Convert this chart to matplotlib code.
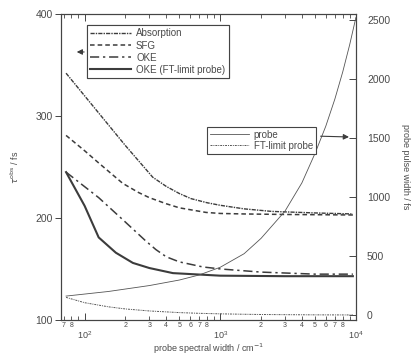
import math
import matplotlib
matplotlib.use("Agg")
import matplotlib.pyplot as plt
from matplotlib.ticker import LogLocator, FuncFormatter, FixedLocator

plt.rcParams['font.family'] = ['Liberation Sans', 'DejaVu Sans']

# ---- data ----
x_abs = [73, 127, 200, 318, 400, 500, 610, 800, 1000, 1500, 2400, 5000, 9500]
y_abs = [342, 303, 271, 240, 231, 224, 219, 215, 212.5, 209, 206.5, 205, 204]

x_sfg = [73, 100, 127, 191, 250, 300, 400, 500, 786, 1000, 1500, 3000, 9500]
y_sfg = [281, 266, 254, 234, 225, 220, 214, 210, 205.5, 204.5, 204, 203.5, 203]

x_oke = [73, 127, 200, 280, 336, 400, 500, 748, 1020, 2000, 5000, 9500]
y_oke = [245, 220, 196, 178, 169, 162, 157, 152, 150, 147, 145, 145]

x_okeft = [73, 100, 127, 170, 227, 300, 448, 1000, 3000, 9500]
y_okeft = [245, 212, 181, 166, 156, 151, 146, 143.5, 143, 143]

x_probe = [73, 150, 300, 500, 700, 1000, 1500, 2000, 3000, 4000, 5000, 6000, 7000, 8000, 9000, 10000]
y_probe = [161, 200, 250, 297, 340, 405, 520, 650, 880, 1120, 1370, 1600, 1830, 2060, 2290, 2520]

x_ftprobe = [73, 100, 150, 200, 300, 500, 700, 1000, 1500, 2000, 3000, 5000, 7000, 9500]
y_ftprobe = [150, 105, 70, 52, 35, 21, 15, 10.5, 7, 5, 3.5, 2, 1.5, 1.1]

left_ticks = [100, 200, 300, 400]
right_ticks = [0, 500, 1000, 1500, 2000, 2500]

ink = '#3c3c3c'
txt = '#4a4a4a'

fig = plt.figure(figsize=(4.13, 3.56), dpi=100)
fig.patch.set_facecolor('white')
ax = fig.add_axes([0.1477, 0.101, 0.714, 0.8596])
ax2 = ax.twinx()

l1, = ax.plot(x_abs, y_abs, color=ink, lw=1.0, ls=(0, (3, 0.8, 1, 0.8)))
l2, = ax.plot(x_sfg, y_sfg, color=ink, lw=1.1, ls=(0, (3, 2)))
l3, = ax.plot(x_oke, y_oke, color=ink, lw=1.1, ls=(0, (6, 2.5, 1.5, 2.5)))
l4, = ax.plot(x_okeft, y_okeft, color=ink, lw=1.5, ls='-')

p1, = ax2.plot(x_probe, y_probe, color='#555555', lw=0.6, ls='-')
p2, = ax2.plot(x_ftprobe, y_ftprobe, color='#555555', lw=0.7, ls=(0, (2, 1, 1, 1)))

ax.set_xscale('log')
ax.set_xlim(67, 10000)
ax.set_ylim(100, 400)
ax2.set_ylim(-42, 2550)

ax.yaxis.set_major_locator(FixedLocator(left_ticks))
ax.yaxis.set_minor_locator(FixedLocator([]))
ax2.yaxis.set_major_locator(FixedLocator(right_ticks))

ax.xaxis.set_major_locator(LogLocator(base=10, numticks=10))
ax.xaxis.set_minor_locator(LogLocator(base=10, subs=range(2, 10), numticks=30))

def minor_fmt(v, pos):
    d = v / 10 ** math.floor(math.log10(v) + 1e-9)
    d = int(round(d))
    return str(d) if 2 <= d <= 8 else ''

ax.xaxis.set_minor_formatter(FuncFormatter(minor_fmt))

for a in (ax, ax2):
    for s in a.spines.values():
        s.set_color('#444444')
        s.set_linewidth(0.8)

ax.tick_params(axis='x', which='major', direction='in', length=5, width=0.7,
               top=True, labelsize=6.5, pad=7, colors='#444444', labelcolor=txt)
ax.tick_params(axis='x', which='minor', direction='in', length=3, width=0.6,
               top=True, labelsize=5, pad=1.5, colors='#444444', labelcolor=txt)
ax.tick_params(axis='y', which='major', direction='out', length=4, width=0.7,
               labelsize=7.5, pad=2, colors='#444444', labelcolor=txt)
ax2.tick_params(axis='y', which='major', direction='in', length=5, width=0.7,
                labelsize=7.5, pad=8, colors='#444444', labelcolor=txt)

ax.set_xlabel('probe spectral width / cm$^{-1}$', fontsize=6.5, color=txt, labelpad=0)
ax.set_ylabel(r'$\tau^{\rm obs}$ / fs', fontsize=6.5, color=txt, labelpad=10)
ax2.set_ylabel('probe pulse width / fs', fontsize=6.5, color=txt, rotation=270, labelpad=14)

leg1 = ax.legend([l1, l2, l3, l4],
                 ['Absorption', 'SFG', 'OKE', 'OKE (FT-limit probe)'],
                 loc='upper left', bbox_to_anchor=(0.088, 0.964), borderaxespad=0,
                 fontsize=7, handlelength=4.2, labelspacing=0.22, borderpad=0.35,
                 handletextpad=0.5, frameon=True, fancybox=False, framealpha=1,
                 edgecolor='#444444', labelcolor=txt)
leg1.get_frame().set_linewidth(0.8)
ax.add_artist(leg1)

leg2 = ax2.legend([p1, p2], ['probe', 'FT-limit probe'],
                  loc='upper left', bbox_to_anchor=(0.495, 0.631), borderaxespad=0,
                  fontsize=7, handlelength=4.0, labelspacing=0.1, borderpad=0.3,
                  handletextpad=0.5, frameon=True, fancybox=False, framealpha=1,
                  edgecolor='#444444', labelcolor=txt)
leg2.get_frame().set_linewidth(0.8)

ax2.annotate('', xy=(0.044, 0.876), xytext=(0.088, 0.876), xycoords='axes fraction',
             arrowprops=dict(arrowstyle='-|>', color=ink, lw=0.8, mutation_scale=8))
ax2.annotate('', xy=(0.986, 0.598), xytext=(0.871, 0.601), xycoords='axes fraction',
             arrowprops=dict(arrowstyle='-|>', color=ink, lw=0.8, mutation_scale=8))

fig.savefig('out.png', dpi=100, facecolor='white')
